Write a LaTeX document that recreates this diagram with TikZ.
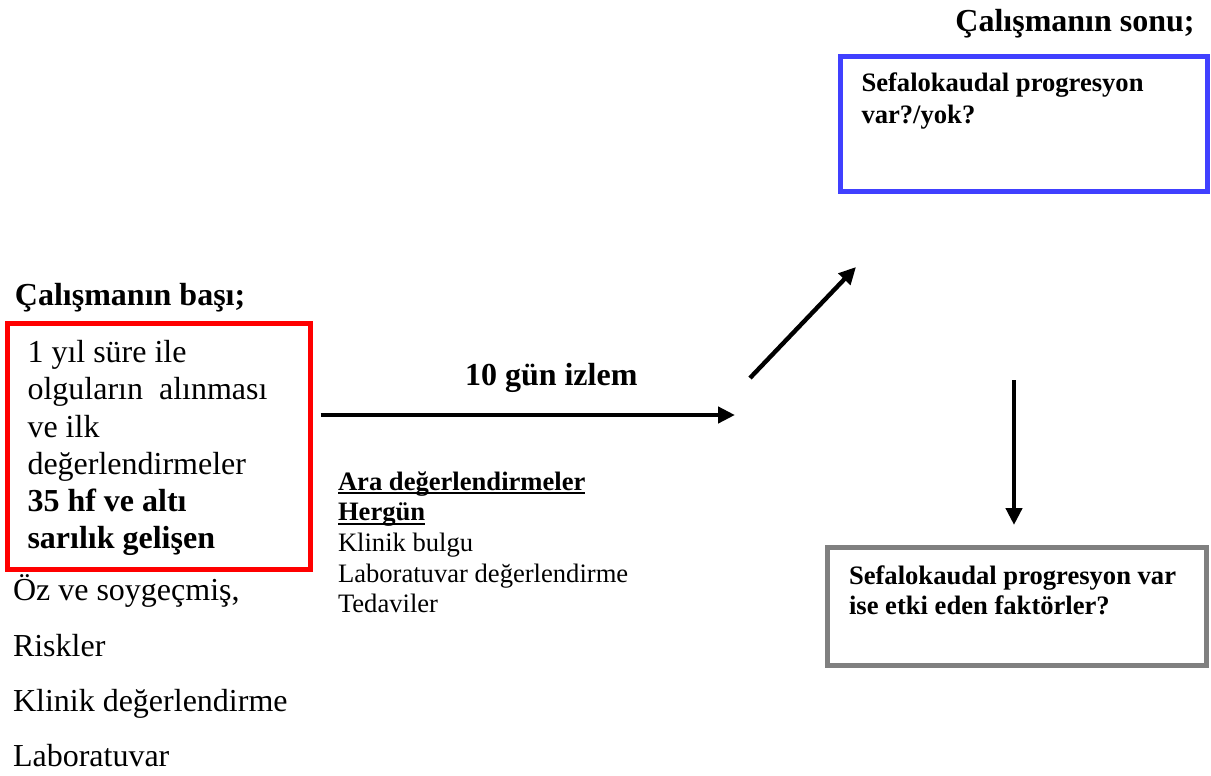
\documentclass[tikz,border=0pt]{standalone}
\usepackage{fontspec}
\setmainfont{Liberation Serif}
\usetikzlibrary{arrows.meta}
\newcommand\myul[1]{\setbox0\hbox{#1}\rlap{\rule[-2.2pt]{\wd0}{1pt}}\box0}
\definecolor{boxred}{RGB}{255,0,0}
\definecolor{boxblue}{RGB}{64,64,255}
\definecolor{boxgrey}{RGB}{128,128,128}
\tikzset{
  frame/.style={draw, line width=2.5pt, inner sep=0pt, fill=none},
  txt/.style={anchor=base west, inner sep=0pt, outer sep=0pt},
  flow/.style={line width=2.2pt, -{Triangle[length=8.5pt,width=8pt]}},
}
\begin{document}
\begin{tikzpicture}[x=0.5pt,y=-0.5pt]
\useasboundingbox (0,0) rectangle (1211,776);
% boxes
\node[frame, draw=boxred, minimum width=151.5pt, minimum height=123pt] (start) at (158.5,446) {};
\node[frame, draw=boxblue, minimum width=183.5pt, minimum height=67.5pt] (end) at (1023.5,123.5) {};
\node[frame, draw=boxgrey, minimum width=189.5pt, minimum height=59pt] (factors) at (1017,606.5) {};
% titles
\node[inner sep=0pt, anchor=base east] (titleend) at (1195,31.7) {\fontsize{16}{18.6}\selectfont\bfseries Çalışmanın sonu;};
\node[txt] (titlestart) at (15,305) {\fontsize{16}{18.6}\selectfont\bfseries Çalışmanın başı;};
% red box text
\node[txt] (starttext) at (27.5,362.7) {\fontsize{16}{18.6}\selectfont\vtop{\baselineskip=18.6pt
  \hbox{1 yıl süre ile}\hbox{olguların\ \ alınması}\hbox{ve ilk}\hbox{değerlendirmeler}
  \hbox{\bfseries 35 hf ve altı}\hbox{\bfseries sarılık gelişen}}};
% list below
\node[txt] (list) at (13,600.7) {\fontsize{16}{18.6}\selectfont\vtop{\baselineskip=27.7pt
  \hbox{Öz ve soygeçmiş,}\hbox{Riskler}\hbox{Klinik değerlendirme}\hbox{Laboratuvar}}};
% arrow label
\node[txt] (izlem) at (465,385) {\fontsize{16}{18.6}\selectfont\bfseries 10 gün izlem};
% middle text
\node[txt] (ara) at (338,490) {\fontsize{13.3}{15.35}\selectfont\vtop{\baselineskip=15.35pt
  \hbox{\bfseries\myul{Ara değerlendirmeler}}\hbox{\bfseries\myul{Hergün}}
  \hbox{Klinik bulgu}\hbox{Laboratuvar değerlendirme}\hbox{Tedaviler}}};
% blue box text
\node[txt] (endtext) at (861.5,91.7) {\fontsize{13.3}{15.8}\selectfont\bfseries\vtop{\baselineskip=15.8pt
  \hbox{Sefalokaudal progresyon}\hbox{var?/yok?}}};
% grey box text
\node[txt] (factext) at (849,584.3) {\fontsize{13.3}{15}\selectfont\bfseries\vtop{\baselineskip=15pt
  \hbox{Sefalokaudal progresyon var}\hbox{ise etki eden faktörler?}}};
% arrows
\coordinate (h1) at (320.7,415);
\coordinate (h2) at (735,415);
\coordinate (d1) at (750,378);
\coordinate (d2) at (856,267);
\coordinate (v1) at (1014,380);
\coordinate (v2) at (1014,525);
\draw[flow] (h1) -- (h2);
\draw[flow] (d1) -- (d2);
\draw[flow] (v1) -- (v2);
\end{tikzpicture}
\end{document}
